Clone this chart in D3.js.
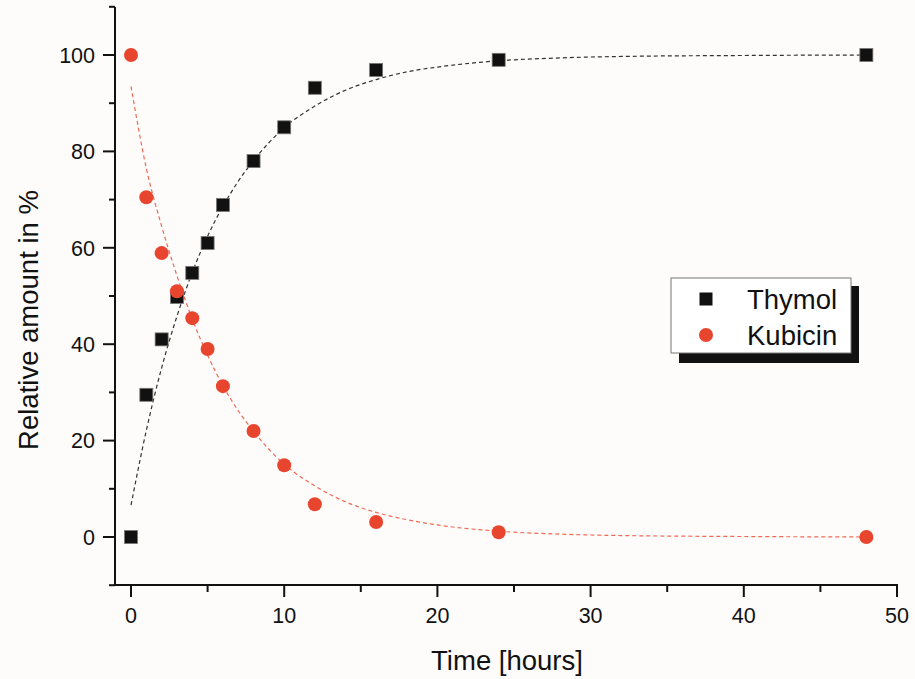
<!DOCTYPE html>
<html><head><meta charset="utf-8">
<script src="https://cdn.jsdelivr.net/npm/d3@7"></script>
<style>
html,body{margin:0;padding:0;background:#fdfcfb;}
svg{display:block;}
text{font-family:"Liberation Sans",Arial,sans-serif;fill:#111;}
</style></head>
<body>
<svg id="chart" width="915" height="679"></svg>
<script>
// Data
const timeHours = [0, 1, 2, 3, 4, 5, 6, 8, 10, 12, 16, 24, 48];
const thymol = [0, 29.5, 41, 49.8, 54.8, 61, 68.9, 78, 85, 93.2, 96.9, 99, 100];
const kubicin = [100, 70.5, 58.9, 51, 45.4, 39, 31.3, 22, 14.9, 6.8, 3.1, 1, 0];
// fitted curves
const fitX = [0, 1, 2, 3, 4, 5, 6, 7, 8, 9, 10, 12, 14, 16, 18, 20, 24, 28, 32, 40, 48];
const thymolFit = [6.6, 22.1, 35.1, 45.8, 54.9, 62.4, 68.6, 73.8, 78.1, 81.8, 84.9, 89.4, 92.7, 94.9, 96.5, 97.5, 98.8, 99.4, 99.7, 99.9, 100];
const kubicinFit = [93.5, 76.5, 64.5, 54.2, 45.2, 37.7, 31.4, 26.2, 21.9, 18.2, 15.1, 10.6, 7.3, 5.1, 3.6, 2.5, 1.2, 0.6, 0.3, 0.1, 0.0];
const seriesNames = ["Thymol", "Kubicin"];
const xTicks = [0, 10, 20, 30, 40, 50];
const yTicks = [0, 20, 40, 60, 80, 100];

const svg = d3.select("#chart");
const x = d3.scaleLinear().domain([0, 50]).range([131, 897]);
const y = d3.scaleLinear().domain([0, 100]).range([537, 55]);
const xLeft = 115, yBottom = 585, yTop = 7;

const red = "#e8452e";
const black = "#111";

// fit lines
const line = d3.line().x(d => x(d[0])).y(d => y(d[1])).curve(d3.curveMonotoneX);
svg.append("path").datum(fitX.map((v, i) => [v, thymolFit[i]]))
  .attr("d", line).attr("fill", "none").attr("stroke", "#333")
  .attr("stroke-width", 1.2).attr("stroke-dasharray", "4,3");
svg.append("path").datum(fitX.map((v, i) => [v, kubicinFit[i]]))
  .attr("d", line).attr("fill", "none").attr("stroke", "#f06a55")
  .attr("stroke-width", 1.2).attr("stroke-dasharray", "4,3");

// axes
const yAxis = svg.append("g").attr("transform", `translate(${xLeft},0)`);
yAxis.append("line").attr("x1", 0).attr("x2", 0).attr("y1", yTop).attr("y2", yBottom + 1)
  .attr("stroke", black).attr("stroke-width", 2);
d3.range(-10, 111, 10).forEach(v => {
  const major = v % 20 === 0;
  yAxis.append("line").attr("x1", 0).attr("x2", major ? -12 : -6)
    .attr("y1", y(v)).attr("y2", y(v)).attr("stroke", black).attr("stroke-width", 2);
});
yTicks.forEach(v => {
  yAxis.append("text").attr("x", -20).attr("y", y(v)).attr("dy", "0.36em")
    .attr("text-anchor", "end").attr("font-size", 21.5).text(v);
});

const xAxis = svg.append("g").attr("transform", `translate(0,${yBottom})`);
xAxis.append("line").attr("x1", xLeft - 1).attr("x2", x(50) + 1).attr("y1", 0).attr("y2", 0)
  .attr("stroke", black).attr("stroke-width", 2);
d3.range(0, 51, 5).forEach(v => {
  const major = v % 10 === 0;
  xAxis.append("line").attr("x1", x(v)).attr("x2", x(v)).attr("y1", 0).attr("y2", major ? 12 : 7)
    .attr("stroke", black).attr("stroke-width", 2);
});
xTicks.forEach(v => {
  xAxis.append("text").attr("x", x(v)).attr("y", 38)
    .attr("text-anchor", "middle").attr("font-size", 21.5).text(v);
});

// titles
svg.append("text").attr("x", 507).attr("y", 670).attr("text-anchor", "middle")
  .attr("font-size", 27.5).text("Time [hours]");
svg.append("text").attr("transform", "translate(38,320) rotate(-90)")
  .attr("text-anchor", "middle").attr("font-size", 27.5).text("Relative amount in %");

// points
const sq = 13;
svg.append("g").selectAll("rect").data(timeHours.map((t, i) => [t, thymol[i]])).join("rect")
  .attr("x", d => x(d[0]) - sq / 2).attr("y", d => y(d[1]) - sq / 2)
  .attr("width", sq).attr("height", sq).attr("fill", black)
  .attr("stroke", "#777").attr("stroke-width", 0.8);
svg.append("g").selectAll("circle").data(timeHours.map((t, i) => [t, kubicin[i]])).join("circle")
  .attr("cx", d => x(d[0])).attr("cy", d => y(d[1])).attr("r", 7).attr("fill", red);

// legend
const lg = svg.append("g");
lg.append("rect").attr("x", 679).attr("y", 286).attr("width", 180).attr("height", 77).attr("fill", black);
lg.append("rect").attr("x", 671).attr("y", 278).attr("width", 180).attr("height", 75)
  .attr("fill", "#fff").attr("stroke", "#777").attr("stroke-width", 1);
lg.append("rect").attr("x", 706 - 6.5).attr("y", 299 - 6.5).attr("width", 13).attr("height", 13).attr("fill", black);
lg.append("circle").attr("cx", 706).attr("cy", 335).attr("r", 7).attr("fill", red);
lg.append("text").attr("x", 747).attr("y", 299).attr("dy", "0.36em").attr("font-size", 27.5).text(seriesNames[0]);
lg.append("text").attr("x", 747).attr("y", 335).attr("dy", "0.36em").attr("font-size", 27.5).text(seriesNames[1]);
</script>
</body></html>
